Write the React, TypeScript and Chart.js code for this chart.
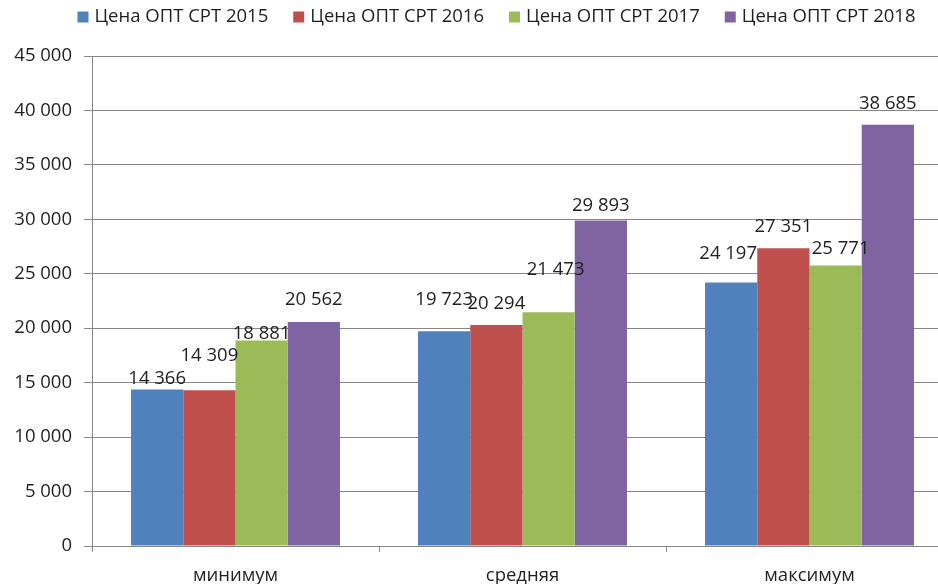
import React, { useEffect, useRef } from 'react';
import { Chart, registerables } from 'chart.js';

Chart.register(...registerables);

const categories = ['минимум', 'средняя', 'максимум'];
const seriesNames = ['Цена ОПТ СРТ 2015', 'Цена ОПТ СРТ 2016', 'Цена ОПТ СРТ 2017', 'Цена ОПТ СРТ 2018'];
const values2015 = [14366, 19723, 24197];
const values2016 = [14309, 20294, 27351];
const values2017 = [18881, 21473, 25771];
const values2018 = [20562, 29893, 38685];
const yMin = 0;
const yMax = 45000;
const yStep = 5000;

const seriesValues = [values2015, values2016, values2017, values2018];
const seriesColors = ['#4F81BD', '#C0504D', '#9BBB59', '#8064A2'];

// small pixel nudges of the value labels (Excel's own label placement)
const labelNudgeY = [
  [0, -21, -18],
  [-23, -10, -10],
  [4, -31, -6],
  [-11, -4, -10],
];
const labelNudgeX = [
  [0, 0, -3],
  [0, 0, 0],
  [0, 7, 5],
  [0, 0, 0],
];

const W = 993;
const H = 584;
const GRID = '#878787';
const TEXT = '#1f1f1f';
const FAMILY = '"Open Sans", "DejaVu Sans", sans-serif';

const fmt = (v: number) => String(Math.round(v)).replace(/\B(?=(\d{3})+(?!\d))/g, '\u00a0');

const valueLabelPlugin = {
  id: 'valueLabels',
  afterDatasetsDraw(chart: any) {
    const ctx = chart.ctx;
    ctx.save();
    ctx.font = `18.5px ${FAMILY}`;
    ctx.fillStyle = TEXT;
    ctx.textAlign = 'center';
    ctx.textBaseline = 'middle';
    chart.data.datasets.forEach((ds: any, di: number) => {
      const meta = chart.getDatasetMeta(di);
      meta.data.forEach((el: any, i: number) => {
        const v = ds.data[i] as number;
        ctx.fillText(fmt(v), el.x + labelNudgeX[di][i], el.y - 11 + labelNudgeY[di][i]);
      });
    });
    ctx.restore();
  },
};

const legendPlugin = {
  id: 'topLegend',
  afterDraw(chart: any) {
    const ctx = chart.ctx;
    ctx.save();
    ctx.font = `18.5px ${FAMILY}`;
    ctx.textAlign = 'left';
    ctx.textBaseline = 'middle';
    const box = 11;
    const gap = 6;
    const spacing = 25;
    const ds = chart.data.datasets;
    const widths = ds.map((d: any) => box + gap + ctx.measureText(d.label).width);
    const total = widths.reduce((a: number, b: number) => a + b, 0) + spacing * (ds.length - 1);
    let x = chart.width / 2 - total / 2;
    const y = 17;
    ds.forEach((d: any, i: number) => {
      ctx.fillStyle = d.backgroundColor;
      ctx.fillRect(x, y - box / 2, box, box);
      ctx.fillStyle = TEXT;
      ctx.fillText(d.label, x + box + gap, y);
      x += widths[i] + spacing;
    });
    ctx.restore();
  },
};

export default function App() {
  const ref = useRef<HTMLCanvasElement>(null);

  useEffect(() => {
    if (!ref.current) return;
    const chart = new Chart(ref.current, {
      type: 'bar',
      data: {
        labels: categories,
        datasets: seriesNames.map((name, i) => ({
          label: name,
          data: seriesValues[i],
          backgroundColor: seriesColors[i],
          borderWidth: 0,
          categoryPercentage: 0.728,
          barPercentage: 1,
        })),
      },
      options: {
        responsive: false,
        animation: false,
        layout: { padding: { top: 56, right: W - 953, left: 0, bottom: 0 } },
        plugins: {
          legend: { display: false },
          tooltip: { enabled: false },
        },
        scales: {
          x: {
            grid: { offset: true, drawOnChartArea: false, tickLength: 6, color: GRID },
            border: { color: GRID },
            ticks: { font: { family: FAMILY, size: 18.5 }, color: TEXT, padding: 13 },
            afterFit: (s: any) => {
              s.height = 38;
            },
          },
          y: {
            min: yMin,
            max: yMax,
            ticks: {
              stepSize: yStep,
              callback: (v: any) => fmt(Number(v)),
              font: { family: FAMILY, size: 18.5 },
              color: TEXT,
              padding: 12,
            },
            grid: { color: GRID, tickLength: 8 },
            border: { color: GRID },
            afterFit: (s: any) => {
              s.width = 92;
            },
          },
        },
      },
      plugins: [valueLabelPlugin, legendPlugin],
    } as any);
    return () => chart.destroy();
  }, []);

  return (
    <div
      style={{
        position: 'fixed',
        left: 0,
        top: 0,
        width: 938,
        height: 584,
        overflow: 'hidden',
        background: '#fff',
      }}
    >
      <canvas ref={ref} width={W} height={H} style={{ display: 'block' }} />
    </div>
  );
}
